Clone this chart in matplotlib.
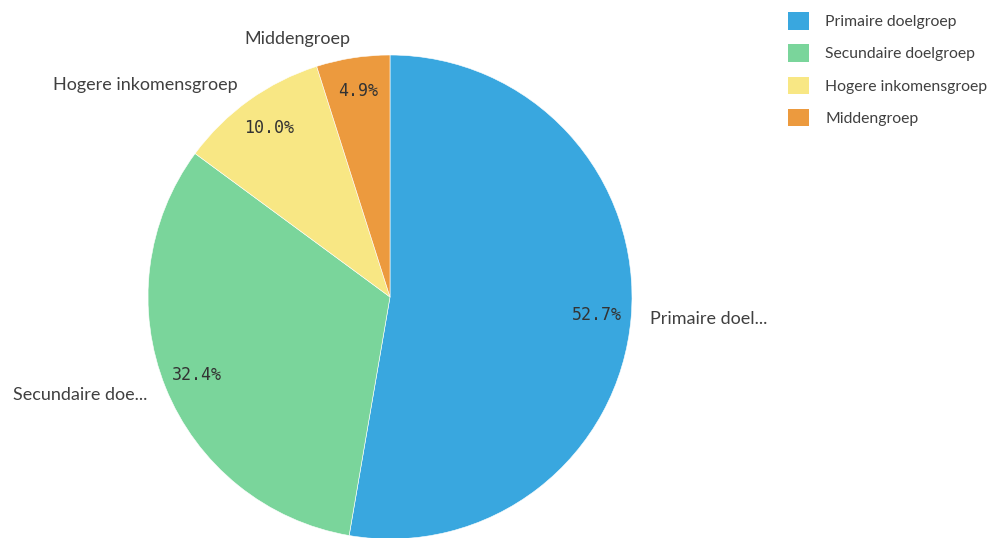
import matplotlib
matplotlib.use("agg")
import matplotlib.pyplot as plt
from matplotlib.patches import Patch

# data
groups = ["Primaire doelgroep", "Secundaire doelgroep",
          "Hogere inkomensgroep", "Middengroep"]
short_labels = ["Primaire doel...", "Secundaire doe...",
                "Hogere inkomensgroep", "Middengroep"]
shares = [52.7, 32.4, 10.0, 4.9]
colors = ["#39A7DF", "#7AD59B", "#F8E784", "#EC9A3E"]

text_color = "#404040"
plt.rcParams['font.family'] = ['Lato', 'DejaVu Sans']

fig = plt.figure(figsize=(9.93, 5.38), dpi=100)
ax = fig.add_axes([148 / 993, -1 / 538, 484 / 993, 484 / 538])

wedges, texts, autotexts = ax.pie(
    shares, labels=short_labels, colors=colors, startangle=90,
    counterclock=False, autopct="%.1f%%", pctdistance=0.86,
    labeldistance=1.08,
    wedgeprops=dict(linewidth=0.4, edgecolor="white"),
    textprops=dict(color=text_color, fontsize=13))
for t in autotexts:
    t.set_family("DejaVu Sans Mono")
    t.set_fontsize(12)
    t.set_color("#333333")
ax.set_aspect("equal")
ax.set_xlim(-1, 1)
ax.set_ylim(-1, 1)

handles = [Patch(facecolor=c, edgecolor="none") for c in colors]
fig.legend(handles, groups, loc="upper left",
           bbox_to_anchor=(774 / 993, 1 + 2 / 538), frameon=False,
           fontsize=11.3, handlelength=1.35, handleheight=1.35,
           labelspacing=0.93, handletextpad=1.0, labelcolor=text_color)

fig.savefig("out.png", dpi=100, facecolor="white")
